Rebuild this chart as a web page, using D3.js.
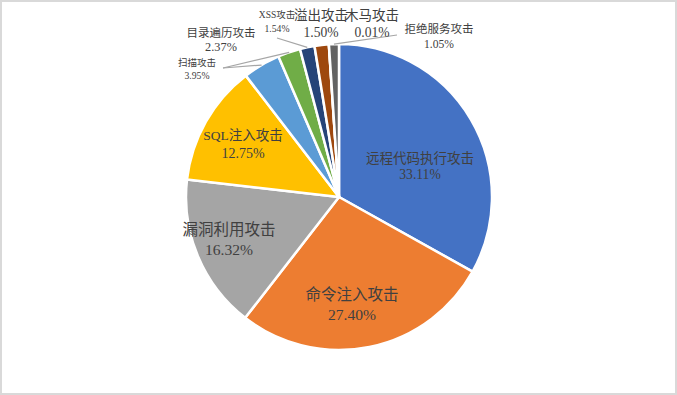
<!DOCTYPE html>
<html><head><meta charset="utf-8">
<script src="https://cdn.jsdelivr.net/npm/d3@7"></script>
<style>
html,body{margin:0;padding:0;background:#fff;}
svg{display:block;}
text{font-family:"Liberation Serif","Noto Sans CJK SC",serif;fill:#404040;}
</style></head>
<body>
<svg id="chart" width="677" height="395"></svg>
<script>
// ---- data ----
const categories = ["远程代码执行攻击","命令注入攻击","漏洞利用攻击","SQL注入攻击","扫描攻击","目录遍历攻击","XSS攻击","溢出攻击","木马攻击","拒绝服务攻击"];
const values = [33.11, 27.40, 16.32, 12.75, 3.95, 2.37, 1.54, 1.50, 0.01, 1.05];
const percentLabels = ["33.11%","27.40%","16.32%","12.75%","3.95%","2.37%","1.54%","1.50%","0.01%","1.05%"];

// ---- styling / layout (separate from data) ----
const colors = ["#4472C4","#ED7D31","#A5A5A5","#FFC000","#5B9BD5","#70AD47","#264478","#9E480E","#997300","#636363"];
// label centre [x, y of name, y of percent], font sizes, leader line start
const labelLayout = [
  {x:420, yn:158, yp:174, fn:13.5, fp:13.6, leader:null},
  {x:352, yn:294, yp:314, fn:15.5, fp:15.6, leader:null},
  {x:229, yn:229, yp:249, fn:15.5, fp:15.6, leader:null},
  {x:243, yn:135, yp:153, fn:13.5, fp:14,   leader:null},
  {x:197, yn:63,  yp:75,  fn:9.5,  fp:9.7,  leader:[223,68]},
  {x:221, yn:33,  yp:47,  fn:11.5, fp:12.3, leader:[223,68]},
  {x:277, yn:15,  yp:28,  fn:9.5,  fp:9.7,  leader:[277,38]},
  {x:321, yn:15,  yp:32,  fn:13.5, fp:13.6, leader:null},
  {x:372, yn:15,  yp:32,  fn:13.5, fp:13.6, leader:null},
  {x:439, yn:29,  yp:44,  fn:11.5, fp:11.6, leader:[397,35]}
];

const W = 677, H = 395;
const cx = 339, cy = 197, R = 153;
const svg = d3.select("#chart");

// border
svg.append("rect").attr("x",1).attr("y",1).attr("width",W-2).attr("height",H-2)
  .attr("fill","#fff").attr("stroke","#d9d9d9").attr("stroke-width",2);

const data = categories.map((c,i)=>({name:c, value:values[i], pct:percentLabels[i], color:colors[i], lay:labelLayout[i]}));

const pie = d3.pie().sort(null).value(d=>d.value);
const arcs = pie(data);
const arc = d3.arc().innerRadius(0).outerRadius(R);

const g = svg.append("g").attr("transform",`translate(${cx},${cy})`);
g.selectAll("path.slice").data(arcs).join("path")
  .attr("class","slice")
  .attr("d",arc)
  .attr("fill",d=>d.data.color)
  .attr("stroke","#fff")
  .attr("stroke-width",2.5)
  .attr("stroke-linejoin","round");

// leader lines
arcs.forEach(a=>{
  const L = a.data.lay;
  if(!L.leader) return;
  const mid = (a.startAngle+a.endAngle)/2;
  const ex = cx + R*Math.sin(mid), ey = cy - R*Math.cos(mid);
  svg.append("line")
    .attr("x1",L.leader[0]).attr("y1",L.leader[1])
    .attr("x2",ex).attr("y2",ey)
    .attr("stroke","#a6a6a6").attr("stroke-width",1.2);
});

// labels
const lab = svg.append("g");
data.forEach(d=>{
  const L = d.lay;
  lab.append("text").attr("x",L.x).attr("y",L.yn).attr("text-anchor","middle")
    .attr("dominant-baseline","central").style("font-size",L.fn+"px").text(d.name);
  lab.append("text").attr("x",L.x).attr("y",L.yp).attr("text-anchor","middle")
    .attr("dominant-baseline","central").style("font-size",L.fp+"px").text(d.pct);
});
</script>
</body></html>
